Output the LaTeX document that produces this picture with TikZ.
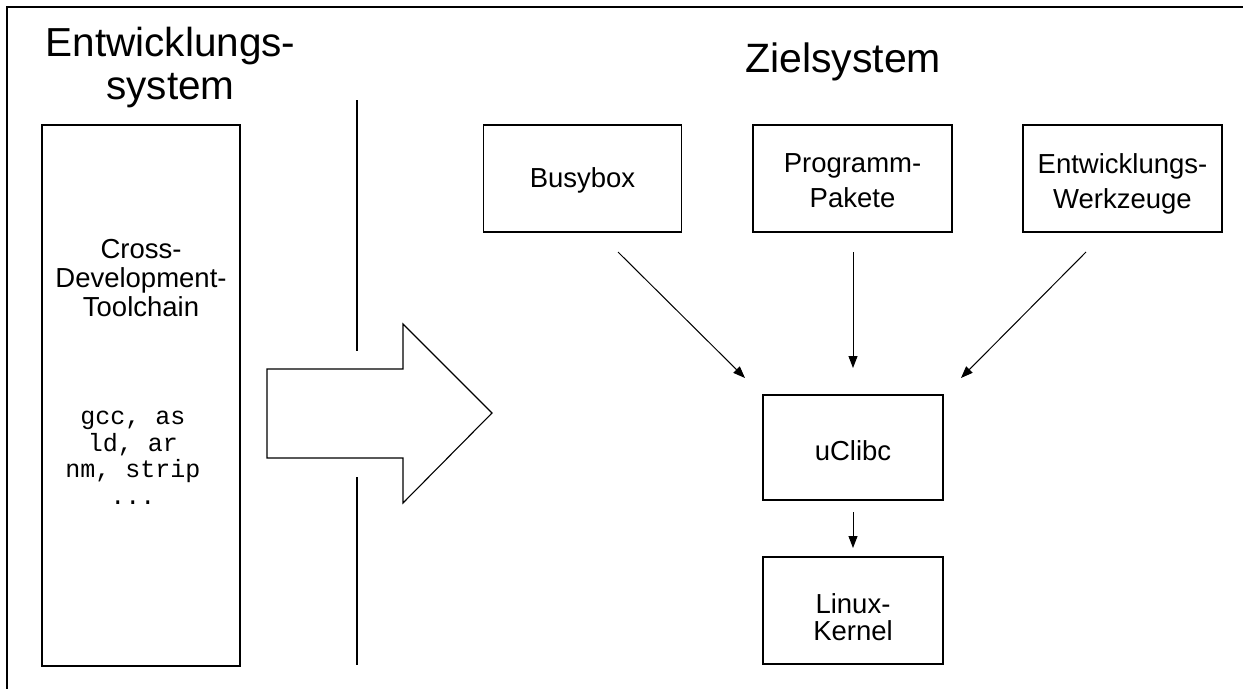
\documentclass[tikz,border=0pt]{standalone}
\usepackage{fontspec}
\setmainfont{Liberation Sans}
\newfontfamily\monofnt{Liberation Mono}
\usetikzlibrary{arrows.meta}
\tikzset{
  box/.style={draw, line width=1.1pt, inner sep=0pt, fill=white},
  lbl/.style={align=center, inner sep=0pt, anchor=base},
  conn/.style={line width=1pt, -{Triangle[length=12pt,width=9pt]}},
  sep/.style={line width=1.1pt},
}
\begin{document}
\begin{tikzpicture}[x=1pt,y=-1pt]
\useasboundingbox (0,0) rectangle (1243,689);
% frame
\draw[line width=1.2pt] (1243,7) -- (7,7) -- (7,689);
% titles (anchor base = baseline of last line)
\node[lbl, font=\fontsize{40.5}{43}\selectfont] (t1) at (170.5,99) {Entwicklungs-\\system};
\node[lbl, font=\fontsize{41}{43}\selectfont] (t2) at (843,72) {Zielsystem};
% left box
\node[box, minimum width=198pt, minimum height=541pt] (tc) at (141,395.5) {};
\node[lbl, font=\fontsize{27.5}{29}\selectfont] (tct) at (141,316) {Cross-\\Development-\\Toolchain};
\node[lbl, font=\monofnt\fontsize{25}{26.5}\selectfont] (tcm) at (133,504) {gcc, as\\ld, ar\\nm, strip\\...};
% separator
\coordinate (s1) at (357,100);
\coordinate (s2) at (357,351);
\coordinate (s3) at (357,477);
\coordinate (s4) at (357,665);
\draw[sep] (s1) -- (s2);
\draw[sep] (s3) -- (s4);
% big arrow
\draw[line width=1.1pt, fill=white] (267,369) -- (403,369) -- (403,324) -- (492,413) -- (403,503) -- (403,458) -- (267,458) -- cycle;
% target boxes
\node[box, minimum width=198pt, minimum height=107pt] (bb) at (582.5,178.5) {};
\node[lbl, font=\fontsize{27.5}{35}\selectfont] (bbt) at (582.5,187) {Busybox};
\node[box, minimum width=199pt, minimum height=107pt] (pp) at (852.5,178.5) {};
\node[lbl, font=\fontsize{27.5}{35}\selectfont] (ppt) at (852.5,207) {Programm-\\Pakete};
\node[box, minimum width=199pt, minimum height=107pt] (ew) at (1122.5,178.5) {};
\node[lbl, font=\fontsize{27.5}{35}\selectfont] (ewt) at (1122.5,208) {Entwicklungs-\\Werkzeuge};
\node[box, minimum width=180pt, minimum height=105pt] (uc) at (853,447.5) {};
\node[lbl, font=\fontsize{27.5}{35}\selectfont] (uct) at (853,460) {uClibc};
\node[box, minimum width=180pt, minimum height=107pt] (lk) at (853,610.5) {};
\node[lbl, font=\fontsize{27.5}{27}\selectfont] (lkt) at (853,640) {Linux-\\Kernel};
% connectors
\coordinate (a1s) at (618,252);
\coordinate (a1e) at (745,378);
\coordinate (a2s) at (853,252);
\coordinate (a2e) at (853,368);
\coordinate (a3s) at (1086,252);
\coordinate (a3e) at (961,378);
\coordinate (a4s) at (853,512);
\coordinate (a4e) at (853,548);
\draw[conn] (a1s) -- (a1e);
\draw[conn] (a2s) -- (a2e);
\draw[conn] (a3s) -- (a3e);
\draw[conn] (a4s) -- (a4e);
\end{tikzpicture}
\end{document}
